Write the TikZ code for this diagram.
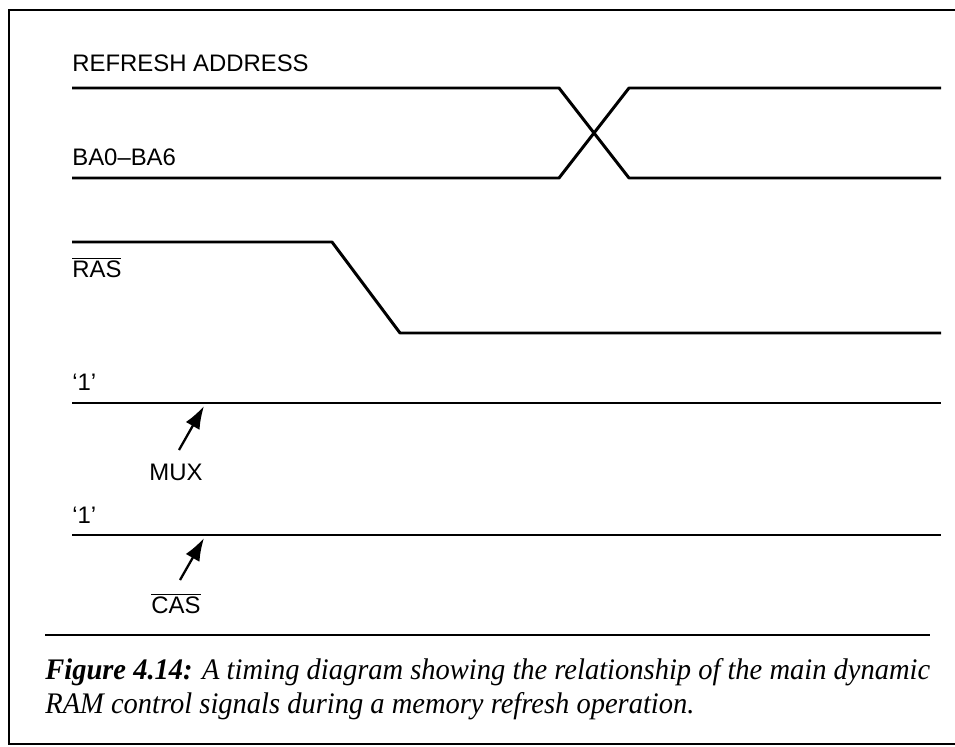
\documentclass[tikz,border=0pt]{standalone}
\usepackage{fontspec}
\setmainfont{Liberation Serif}
\setsansfont{Liberation Sans}
\usetikzlibrary{arrows.meta}
\newsavebox\capboxA
\newsavebox\capboxB
\newcommand\capfontsel{\itshape\fontsize{17}{20}\selectfont}
\AtBeginDocument{%
\sbox\capboxA{\capfontsel\textbf{Figure 4.14:} A timing diagram showing the relationship of the main dynamic}%
\sbox\capboxB{\capfontsel RAM control signals during a memory refresh operation.}%
}
\begin{document}
\begin{tikzpicture}[x=0.02cm,y=-0.02cm,
  sig/.style={line width=1.7pt, line join=round},
  frame/.style={line width=1.4pt},
  lbl/.style={anchor=base west, inner sep=0pt, font=\sffamily\fontsize{13.6}{16}\selectfont},
  clbl/.style={anchor=base, inner sep=0pt, font=\sffamily\fontsize{13.6}{16}\selectfont},
  pointer/.style={line width=1.3pt, -{Latex[length=13pt,width=9pt]}},
  capline/.style={anchor=base west, inner sep=0pt}]
\useasboundingbox (0,0) rectangle (955,746);
% frame
\draw[frame] (955,10) -- (9,10) -- (9,744) -- (955,744);
% refresh address / BA0-BA6
\node[lbl] (ra) at (72,72) {REFRESH ADDRESS};
\node[lbl] (ba) at (72,166) {BA0–BA6};
\draw[sig] (72,88) -- (559,88) -- (629,178) -- (941,178);
\draw[sig] (72,178) -- (559,178) -- (629,88) -- (941,88);
% RAS
\node[lbl] (ras) at (72,277) {$\overline{\mbox{RAS}}$};
\draw[sig] (72,242) -- (332,242) -- (400,333) -- (941,333);
% MUX
\node[lbl] (one1) at (72,390) {‘1’};
\draw[sig] (72,403) -- (941,403);
\coordinate (muxtip) at (204,406);
\node[clbl] (mux) at (176,480) {MUX};
\draw[pointer] (179,450) -- (muxtip);
% CAS
\node[lbl] (one2) at (72,523) {‘1’};
\draw[sig] (72,535) -- (941,535);
\coordinate (castip) at (204,538);
\node[clbl] (cas) at (176,613) {$\overline{\mbox{CAS}}$};
\draw[pointer] (180,580) -- (castip);
% separator
\draw[line width=1.4pt] (45,635) -- (930,635);
% caption
\pgfmathsetmacro\capscale{17.7cm/\wd\capboxA}
\node[capline] (cap1) at (45,679) {\scalebox{\capscale}[1]{\usebox\capboxA}};
\node[capline] (cap2) at (45,713) {\scalebox{\capscale}[1]{\usebox\capboxB}};
\end{tikzpicture}
\end{document}
